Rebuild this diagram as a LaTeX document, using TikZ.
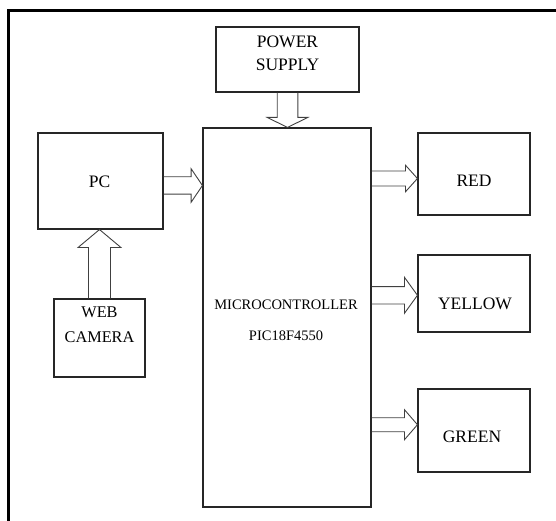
\documentclass[tikz,border=0pt]{standalone}
\usepackage{fontspec}
\setmainfont{Liberation Serif}
\usetikzlibrary{calc}
\definecolor{boxc}{HTML}{262626}
\definecolor{arrc}{HTML}{404040}
\tikzset{
  box/.style={draw=boxc, line width=1.1pt, inner sep=0pt, fill=none},
  blk/.style={draw=arrc, line width=0.9pt, line join=miter},
  lab/.style={font=\fontsize{17.5}{20}\selectfont, text=black, inner sep=0pt},
  labs/.style={font=\fontsize{16.3}{19}\selectfont, text=black, inner sep=0pt},
  labm/.style={font=\fontsize{14.5}{17}\selectfont, text=black, inner sep=0pt},
}
% horizontal block arrow (rightwards): start node, end node, y, shaft half, head half, head length
\newcommand\blkH[6]{\draw[blk] let \p1=(#1), \p2=(#2), \p3=(0,#3) in
  (\x1,\y3+#4pt) -- (\x2-#6pt,\y3+#4pt) -- (\x2-#6pt,\y3+#5pt) -- (\x2,\y3)
  -- (\x2-#6pt,\y3-#5pt) -- (\x2-#6pt,\y3-#4pt) -- (\x1,\y3-#4pt);}
% vertical block arrow: start node, end node, shaft half, head half, head length
\newcommand\blkV[5]{\draw[blk] let \p1=(#1), \p2=(#2), \p4=($(#2)!#5pt!(#1)$) in
  (\x1-#3pt,\y1) -- (\x1-#3pt,\y4) -- (\x1-#4pt,\y4) -- (\x1,\y2)
  -- (\x1+#4pt,\y4) -- (\x1+#3pt,\y4) -- (\x1+#3pt,\y1);}
\begin{document}
\begin{tikzpicture}[x=1pt,y=-1pt]
\useasboundingbox (0,0) rectangle (556,521);
% outer frame (cropped)
\draw[line width=2.8pt, line join=miter] (556,10.8) -- (8.7,10.8) -- (8.7,521);

% boxes
\node[box, minimum width=143pt, minimum height=65pt]  (power)  at (287.5,59.5) {};
\node[box, minimum width=125pt, minimum height=96pt]  (pc)     at (100.5,181) {};
\node[box, minimum width=91pt,  minimum height=78pt]  (cam)    at (99.5,338) {};
\node[box, minimum width=168pt, minimum height=379pt] (micro)  at (287,317.5) {};
\node[box, minimum width=112pt, minimum height=82pt]  (red)    at (474,174) {};
\node[box, minimum width=112pt, minimum height=77pt]  (yellow) at (474,293.5) {};
\node[box, minimum width=112pt, minimum height=83pt]  (green)  at (474,430.5) {};

% texts
\node[lab]  (pwr1) at (287.5,42.3) {POWER};
\node[lab]  (pwr2) at (287.5,65) {SUPPLY};
\node[lab]  (pct)  at (99.5,181.7) {PC};
\node[labs] (cam1) at (99.5,312.7) {WEB};
\node[labs] (cam2) at (99.5,336.7) {CAMERA};
\node[labm] (mc1)  at (286,304.3) {MICROCONTROLLER};
\node[labm] (mc2)  at (286,336) {PIC18F4550};
\node[lab]  (redt) at (474,181) {RED};
\node[lab]  (yelt) at (475,304) {YELLOW};
\node[lab]  (grnt) at (472,436.7) {GREEN};

% block arrows
\blkV{power.south}{micro.north}{10.3}{20.2}{10}
\blkV{cam.north}{pc.south}{11}{21.5}{18}
\blkH{pc.east}{micro.west}{185.5}{8.7}{16.7}{11.3}
\blkH{micro.east}{red.west}{178.5}{7.5}{13.3}{12}
\blkH{micro.east}{yellow.west}{295.3}{8.7}{18}{13}
\blkH{micro.east}{green.west}{424.7}{7}{15}{13}
\end{tikzpicture}
\end{document}
